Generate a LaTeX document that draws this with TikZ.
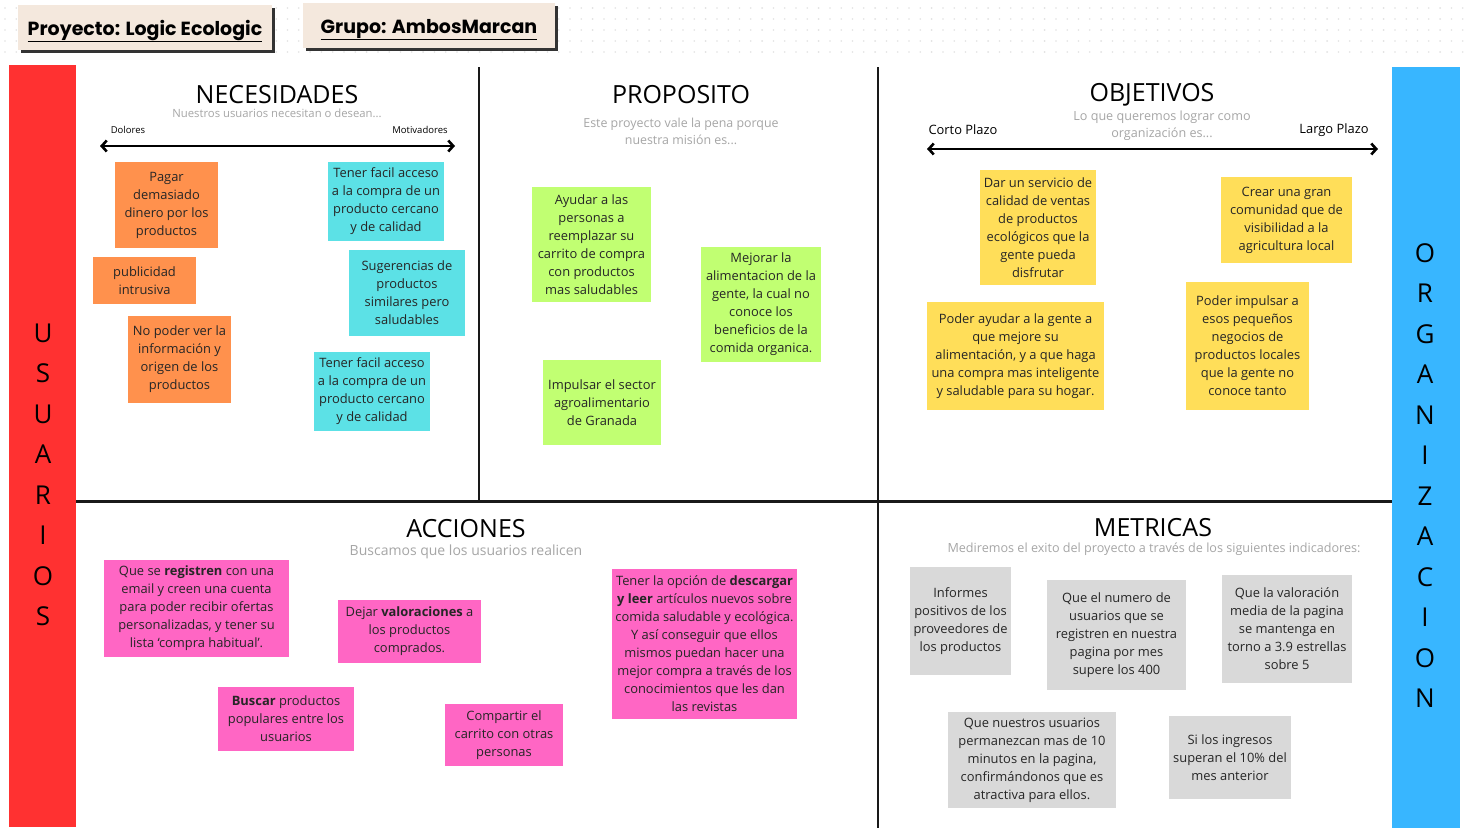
\documentclass[tikz,border=0pt]{standalone}
\usepackage{fontspec}
\setmainfont{Open Sans}
\newfontfamily\headfont{Poppins}
\usetikzlibrary{arrows.meta,shadows}
\definecolor{dolorfill}{HTML}{FF914D}
\definecolor{motivfill}{HTML}{5CE1E6}
\definecolor{propfill}{HTML}{C1FF72}
\definecolor{objfill}{HTML}{FFDE59}
\definecolor{accfill}{HTML}{FF66C4}
\definecolor{metfill}{HTML}{D9D9D9}
\definecolor{userbar}{HTML}{FF3131}
\definecolor{orgbar}{HTML}{38B6FF}
\definecolor{headfill}{HTML}{F4E8DD}
\definecolor{subgray}{HTML}{A6A6A6}
\definecolor{dotgray}{HTML}{E2E2E2}
\tikzset{
  sz/.style 2 args={minimum width=#1pt, minimum height=#2pt},
  note/.style={inner sep=0pt, align=center, text=black!85,
               font=\fontsize{12.9}{18}\selectfont},
  dolor/.style={note, fill=dolorfill},
  motiv/.style={note, fill=motivfill},
  prop/.style={note, fill=propfill},
  obj/.style={note, fill=objfill},
  acc/.style={note, fill=accfill},
  met/.style={note, fill=metfill},
  headbox/.style={fill=headfill, inner sep=0pt, sz={#1}{45},
                  text height=15pt, text depth=0pt,
                  font=\headfont\bfseries\fontsize{19}{22}\selectfont,
                  drop shadow={shadow xshift=3pt, shadow yshift=-3pt, fill=black!80, opacity=1}},
  sectitle/.style={font=\fontsize{25}{30}\selectfont, inner sep=0pt},
  subtitle/.style={text=subgray, align=center, inner sep=0pt},
  barletters/.style={align=center, inner sep=0pt, font=\fontsize{26}{40.5}\selectfont},
  bigarrow/.style={{Straight Barb[length=5pt,width=11pt]}-{Straight Barb[length=5pt,width=11pt]}, line width=2.6pt},
  divline/.style={line width=2.5pt, black!90},
}

\begin{document}
\begin{tikzpicture}[x=1pt, y=-1pt]
  \useasboundingbox (0,0) rectangle (1465,830);
  \fill[white] (0,0) rectangle (1465,830);
  % dotted board
  \foreach \i in {0,...,129}
    \foreach \j in {0,...,4}
      \fill[dotgray] (5+11.3*\i, 8+11*\j) circle (0.9);

  % headers
  \node[headbox=254] (proy) at (145,27.5) {\underline{Proyecto: Logic Ecologic}};
  \node[headbox=252] (grupo) at (429,25.5) {\underline{Grupo: AmbosMarcan}};

  % side bars
  \fill[userbar] (9,65) rectangle (76,827);
  \fill[orgbar] (1392,67) rectangle (1460,828);
  \node[barletters] (usuarios) at (43,475) {U\\S\\U\\A\\R\\I\\O\\S};
  \node[barletters] (organiz) at (1425,475.5) {O\\R\\G\\A\\N\\I\\Z\\A\\C\\I\\O\\N};

  % grid of the canvas
  \draw[divline, line width=3pt] (76,501) -- (1392,501);
  \draw[divline] (479,67) -- (479,501);
  \draw[divline] (878,67) -- (878,828);

  % necesidades
  \node[sectitle] (necT) at (277,95) {NECESIDADES};
  \node[subtitle, font=\fontsize{11.3}{13}\selectfont] (necS) at (277,113) {Nuestros usuarios necesitan o desean...};
  \node[font=\fontsize{9.5}{11}\selectfont] (dolores) at (128,130) {Dolores};
  \node[font=\fontsize{9.5}{11}\selectfont] (motivad) at (420,130) {Motivadores};
  \coordinate (necL) at (100,146);
  \coordinate (necR) at (455,146);
  \draw[bigarrow] (necL) -- (necR);
  \node[dolor, sz={103}{86}] (pagar) at (166.5,205) {Pagar\\demasiado\\dinero por los\\productos};
  \node[dolor, sz={103}{47}] (public) at (144.5,280.5) {publicidad\\intrusiva};
  \node[dolor, sz={103}{87}] (noinfo) at (179.5,359.5) {No poder ver la\\información y\\origen de los\\productos};
  \node[motiv, sz={116}{79}] (acceso1) at (386,201.5) {Tener facil acceso\\a la compra de un\\producto cercano\\y de calidad};
  \node[motiv, sz={116}{86}] (suger) at (407,293) {Sugerencias de\\productos\\similares pero\\saludables};
  \node[motiv, sz={116}{79}] (acceso2) at (372,391.5) {Tener facil acceso\\a la compra de un\\producto cercano\\y de calidad};

  % proposito
  \node[sectitle] (propT) at (681,95) {PROPOSITO};
  \node[subtitle, font=\fontsize{12.4}{17}\selectfont] (propS) at (681,131) {Este proyecto vale la pena porque\\nuestra misión es...};
  \node[prop, sz={119}{115}] (ayudar) at (591.5,244.5) {Ayudar a las\\personas a\\reemplazar su\\carrito de compra\\con productos\\mas saludables};
  \node[prop, sz={120}{115}] (mejorar) at (761,304.5) {Mejorar la\\alimentacion de la\\gente, la cual no\\conoce los\\beneficios de la\\comida organica.};
  \node[prop, sz={118}{85}] (impulsar) at (602,402.5) {Impulsar el sector\\agroalimentario\\de Granada};

  % objetivos
  \node[sectitle] (objT) at (1152,95) {OBJETIVOS};
  \node[subtitle, font=\fontsize{12.6}{17}\selectfont] (objS) at (1162,126) {Lo que queremos lograr como\\organización es...};
  \node[font=\fontsize{12.9}{14}\selectfont] (corto) at (963,130) {Corto Plazo};
  \node[font=\fontsize{12.9}{14}\selectfont] (largo) at (1334,130) {Largo Plazo};
  \coordinate (objL) at (927,149);
  \coordinate (objR) at (1378,149);
  \draw[bigarrow] (objL) -- (objR);
  \node[obj, sz={116}{115}] (servicio) at (1038,227.5) {Dar un servicio de\\calidad de ventas\\de productos\\ecológicos que la\\gente pueda\\disfrutar};
  \node[obj, sz={131}{86}] (comunidad) at (1286.5,220) {Crear una gran\\comunidad que de\\visibilidad a la\\agricultura local};
  \node[obj, sz={177}{108}] (alimenta) at (1015.5,356) {Poder ayudar a la gente a\\que mejore su\\alimentación, y a que haga\\una compra mas inteligente\\y saludable para su hogar.};
  \node[obj, sz={123}{128}] (negocios) at (1247.5,346) {Poder impulsar a\\esos pequeños\\negocios de\\productos locales\\que la gente no\\conoce tanto};

  % acciones
  \node[sectitle] (accT) at (466,529) {ACCIONES};
  \node[subtitle, font=\fontsize{14}{16}\selectfont] (accS) at (466,552) {Buscamos que los usuarios realicen};
  \node[acc, sz={185}{97}] (registro) at (196.5,608.5) {Que se \textbf{registren} con una\\email y creen una cuenta\\para poder recibir ofertas\\personalizadas, y tener su\\lista ‘compra habitual’.};
  \node[acc, sz={143}{63}] (valorar) at (409.5,631.5) {Dejar \textbf{valoraciones} a\\los productos\\comprados.};
  \node[acc, sz={136}{64}] (buscar) at (286,719) {\textbf{Buscar} productos\\populares entre los\\usuarios};
  \node[acc, sz={118}{62}] (compartir) at (504,735) {Compartir el\\carrito con otras\\personas};
  \node[acc, sz={185}{150}] (descargar) at (704.5,644) {Tener la opción de \textbf{descargar}\\\textbf{y leer} artículos nuevos sobre\\comida saludable y ecológica.\\Y así conseguir que ellos\\mismos puedan hacer una\\mejor compra a través de los\\conocimientos que les dan\\las revistas};

  % metricas
  \node[sectitle] (metT) at (1153,528) {METRICAS};
  \node[subtitle, font=\fontsize{12.6}{14}\selectfont] (metS) at (1154,549) {Mediremos el exito del proyecto a través de los siguientes indicadores:};
  \node[met, sz={101}{108}] (informes) at (960.5,621) {Informes\\positivos de los\\proveedores de\\los productos};
  \node[met, sz={139}{110}] (numero) at (1116.5,635) {Que el numero de\\usuarios que se\\registren en nuestra\\pagina por mes\\supere los 400};
  \node[met, sz={130}{108}] (estrellas) at (1287,629) {Que la valoración\\media de la pagina\\se mantenga en\\torno a 3.9 estrellas\\sobre 5};
  \node[met, sz={168}{96}] (minutos) at (1032,760) {Que nuestros usuarios\\permanezcan mas de 10\\minutos en la pagina,\\confirmándonos que es\\atractiva para ellos.};
  \node[met, sz={122}{83}] (ingresos) at (1230,757.5) {Si los ingresos\\superan el 10\% del\\mes anterior};
\end{tikzpicture}
\end{document}
